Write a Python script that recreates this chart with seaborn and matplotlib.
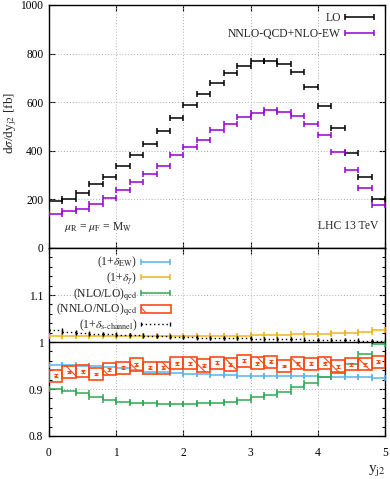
import numpy as np
import matplotlib
matplotlib.use("Agg")
import matplotlib.pyplot as plt
import seaborn as sns
from matplotlib.patches import Patch
from matplotlib.container import ErrorbarContainer
from matplotlib.legend_handler import HandlerErrorbar

# ---------------- data ----------------
bin_lo = [0.0, 0.2, 0.4, 0.6, 0.8, 1.0, 1.2, 1.4, 1.6, 1.8, 2.0, 2.2, 2.4,
          2.6, 2.8, 3.0, 3.2, 3.4, 3.6, 3.8, 4.0, 4.2, 4.4, 4.6, 4.8]
bin_width = 0.2

lo = [193, 203, 226, 262, 291, 337, 381, 430, 482, 536, 587, 634, 681,
      719, 748, 769, 771, 759, 725, 663, 584, 495, 389, 293, 200]
nnlo_ew = [140, 151, 162, 182, 205, 238, 271, 305, 338, 381, 415, 445, 484,
           511, 540, 556, 569, 559, 545, 511, 463, 396, 323, 247, 175]

r_ew = [0.951, 0.951, 0.950, 0.948, 0.946, 0.944, 0.940, 0.937, 0.936, 0.934,
        0.932, 0.931, 0.930, 0.929, 0.928, 0.928, 0.927, 0.927, 0.927, 0.927,
        0.926, 0.926, 0.926, 0.926, 0.923]
r_gamma = [1.012, 1.012, 1.012, 1.012, 1.012, 1.012, 1.012, 1.012, 1.012, 1.012,
           1.012, 1.012, 1.012, 1.013, 1.013, 1.014, 1.014, 1.015, 1.016, 1.016,
           1.018, 1.019, 1.020, 1.022, 1.025]
r_nlo_lo = [0.901, 0.896, 0.891, 0.884, 0.877, 0.872, 0.871, 0.870, 0.869, 0.869,
            0.869, 0.870, 0.871, 0.872, 0.876, 0.882, 0.887, 0.894, 0.904, 0.912,
            0.925, 0.937, 0.953, 0.974, 0.995]
r_nnlo_nlo = [0.928, 0.936, 0.938, 0.932, 0.942, 0.945, 0.952, 0.945, 0.945, 0.955,
              0.955, 0.950, 0.956, 0.952, 0.960, 0.955, 0.958, 0.949, 0.955, 0.954,
              0.955, 0.948, 0.953, 0.953, 0.958]
r_nnlo_nlo_band = [0.013] * 25
r_nnlo_nlo_stat = [0.003] * 25
r_schan = [1.025, 1.022, 1.020, 1.018, 1.017, 1.015, 1.014, 1.013, 1.012, 1.011,
           1.010, 1.009, 1.009, 1.008, 1.008, 1.007, 1.007, 1.006, 1.006, 1.005,
           1.005, 1.004, 1.004, 1.003, 1.002]

top_yticks = [0, 200, 400, 600, 800, 1000]
bot_yticks = [0.8, 0.9, 1.0, 1.1]
bot_ylabels = ["0.8", "0.9", "1", "1.1"]
xticks = [0, 1, 2, 3, 4, 5]

labels_top = ["LO", "NNLO-QCD+NLO-EW"]
labels_bot = [r"(1+$\delta_{\mathrm{EW}}$)", r"(1+$\delta_{\gamma}$)",
              r"(NLO/LO)$_{\mathrm{qcd}}$", r"(NNLO/NLO)$_{\mathrm{qcd}}$",
              r"(1+$\delta_{\mathrm{s\text{-}channel}}$)"]

# ---------------- style ----------------
sns.set_style("ticks")
plt.rcParams["font.family"] = ["Liberation Serif", "DejaVu Serif"]
plt.rcParams["mathtext.fontset"] = "stix"
plt.rcParams["hatch.linewidth"] = 0.8

C_BLACK = "#000000"
C_PURPLE = "#9400d3"
C_BLUE = "#56b4e9"
C_YELLOW = "#f0b41e"
C_GREEN = "#2eaa55"
C_ORANGE = "#ff4a14"

W, H = 390, 479
fig = plt.figure(figsize=(W / 100, H / 100), dpi=100)
ax1 = fig.add_axes([49 / W, 1 - 248 / H, 336 / W, 243 / H])
ax2 = fig.add_axes([49 / W, 1 - 436 / H, 336 / W, 188 / H])

centers = np.array(bin_lo) + bin_width / 2
half = bin_width / 2

def ebar(ax, y, color, lw=1.0, label=None, ls="-", cs=2.0, z=3):
    eb = ax.errorbar(centers, y, xerr=half, fmt="none", ecolor=color,
                     elinewidth=lw, capsize=cs, capthick=lw, label=label, zorder=z)
    if ls != "-":
        for c in eb[2]:
            c.set_linestyle(ls)
    return eb

fs_tick = 8.3
fs_leg = 8.4
hmap = {ErrorbarContainer: HandlerErrorbar(xerr_size=1.25)}

# ----- top panel -----
h_lo = ebar(ax1, lo, C_BLACK, lw=1.1, label=labels_top[0])
h_nn = ebar(ax1, nnlo_ew, C_PURPLE, lw=1.1, label=labels_top[1])
ax1.set_xlim(0, 5)
ax1.set_ylim(0, 1000)
ax1.set_yticks(top_yticks)
ax1.set_xticks(xticks)
ax1.set_xticklabels([])
ax1.set_ylabel(r"d$\sigma$/dy$_{\mathrm{j2}}$ [fb]", fontsize=9.5)
ax1.yaxis.set_label_coords(-0.09, 0.515)
ax1.text(0.22, 88, r"$\mu_{\mathrm{R}}$ = $\mu_{\mathrm{F}}$ = M$_{\mathrm{W}}$", fontsize=fs_leg,
         ha="left", va="center")
ax1.text(4.9, 90, "LHC 13 TeV", fontsize=fs_leg, ha="right", va="center")
for v in [1, 2, 3, 4]:
    ax1.axvline(v, color="#b0b0b0", lw=0.7, ls=(0, (1, 2)), zorder=1)
for v in [200, 400, 600, 800]:
    ax1.axhline(v, color="#b0b0b0", lw=0.7, ls=(0, (1, 2)), zorder=1)
leg1 = ax1.legend(handles=[h_lo, h_nn], loc="upper right", markerfirst=False,
                  frameon=False, fontsize=fs_leg, handlelength=2.6, handletextpad=0.3,
                  labelspacing=0.35, borderaxespad=0.2, bbox_to_anchor=(0.99, 1.0),
                  handler_map=hmap)

# ----- bottom panel -----
h_ew = ebar(ax2, r_ew, C_BLUE, lw=1.1, label=labels_bot[0])
h_ga = ebar(ax2, r_gamma, C_YELLOW, lw=1.1, label=labels_bot[1])
h_nl = ebar(ax2, r_nlo_lo, C_GREEN, lw=1.1, label=labels_bot[2])
band_lo = np.array(r_nnlo_nlo) - np.array(r_nnlo_nlo_band)
ax2.bar(centers, 2 * np.array(r_nnlo_nlo_band), bottom=band_lo, width=bin_width,
        fill=False, edgecolor=C_ORANGE, hatch="\\", linewidth=1.2, zorder=4)
ax2.errorbar(centers, r_nnlo_nlo, yerr=r_nnlo_nlo_stat, fmt="none", ecolor=C_ORANGE,
             elinewidth=0.8, capsize=1.6, capthick=0.8, zorder=5)
ax2.errorbar(centers, r_nnlo_nlo, xerr=0.02, fmt="none", ecolor=C_ORANGE,
             elinewidth=0.8, zorder=5)
h_box = Patch(facecolor="none", edgecolor=C_ORANGE, hatch="\\", linewidth=1.2,
              label=labels_bot[3])
h_sc = ebar(ax2, r_schan, C_BLACK, lw=1.0, label=labels_bot[4], ls=(0, (1, 2)), cs=1.2)

ax2.axhline(1.0, color="black", lw=1.0, zorder=2)
for v in [1, 2, 3, 4]:
    ax2.axvline(v, color="#b0b0b0", lw=0.7, ls=(0, (1, 2)), zorder=1)
for v in [0.9, 1.1]:
    ax2.axhline(v, color="#b0b0b0", lw=0.7, ls=(0, (1, 2)), zorder=1)
ax2.set_xlim(0, 5)
ax2.set_ylim(0.8, 1.2)
ax2.set_yticks(bot_yticks)
ax2.set_yticklabels(bot_ylabels)
ax2.set_yticks(np.arange(0.8, 1.2001, 0.02), minor=True)
ax2.set_xticks(xticks)
ax2.set_xticklabels([str(v) for v in xticks])
ax2.set_xlabel(r"y$_{\mathrm{j2}}$", fontsize=11)
ax2.xaxis.set_label_coords(0.975, -0.145)
leg2 = ax2.legend(handles=[h_ew, h_ga, h_nl, h_box, h_sc], loc="upper left",
                  markerfirst=False, frameon=False, fontsize=fs_leg, handlelength=2.6,
                  handletextpad=0.3, labelspacing=-0.05, borderaxespad=0.2,
                  bbox_to_anchor=(0.0, 1.0), handler_map=hmap)

for ax in (ax1, ax2):
    for s in ax.spines.values():
        s.set_linewidth(1.0)
        s.set_color("black")
        s.set_visible(True)
    ax.tick_params(which="both", direction="in", top=True, right=True,
                   labelsize=fs_tick, colors="black", width=0.8)
    ax.tick_params(which="major", length=4.5)
    ax.tick_params(which="minor", length=2.5)
    ax.tick_params(axis="y", pad=4)
ax2.tick_params(axis="x", pad=8)

fig.savefig("out.png", dpi=100)
